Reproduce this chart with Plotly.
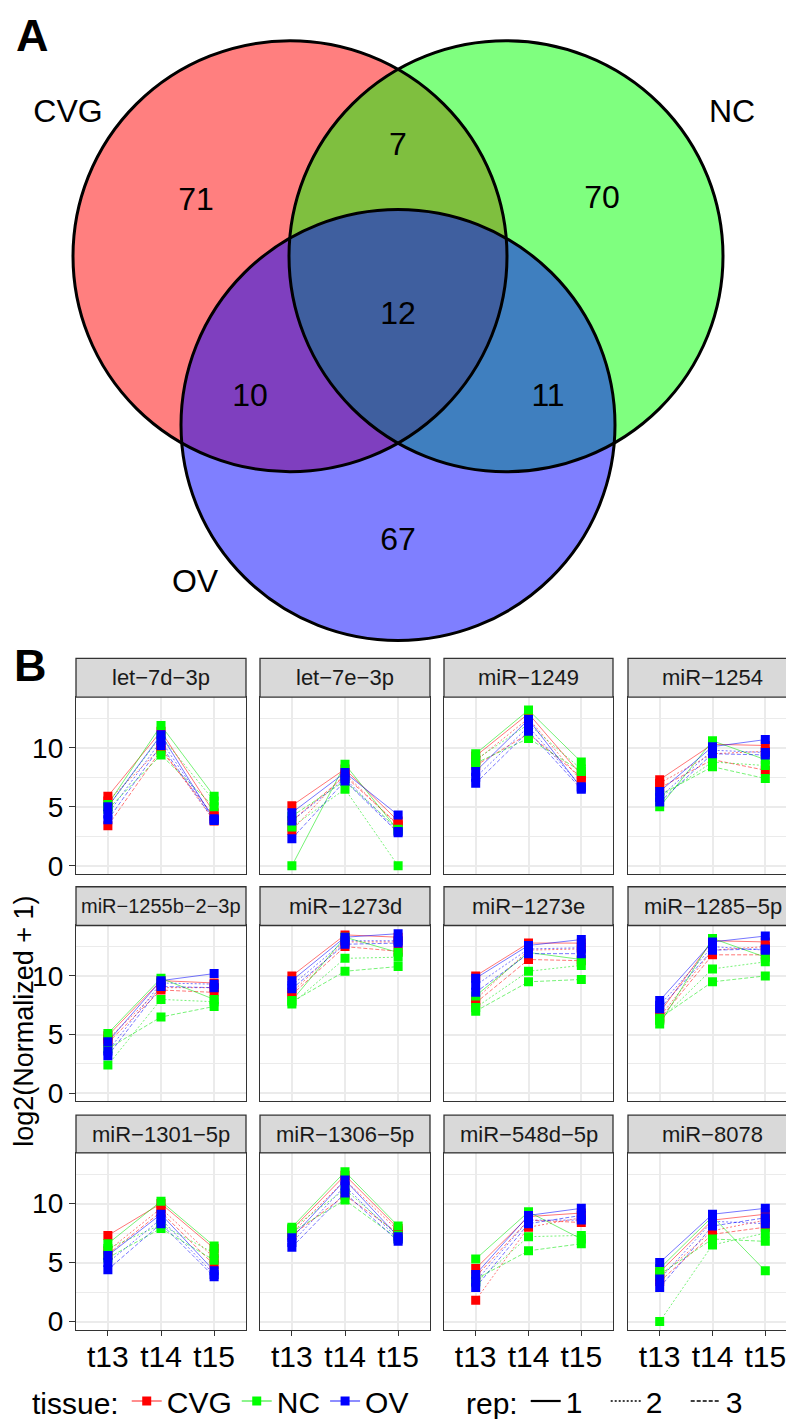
import plotly.graph_objects as go

# ---------------- data ----------------
venn_sets = ["CVG", "NC", "OV"]
venn_regions = ["CVG only", "NC only", "OV only", "CVG&NC", "CVG&OV", "NC&OV", "all"]
venn_counts = [71, 70, 67, 7, 10, 11, 12]

mirnas = ["let-7d-3p", "let-7e-3p", "miR-1249", "miR-1254",
          "miR-1255b-2-3p", "miR-1273d", "miR-1273e", "miR-1285-5p",
          "miR-1301-5p", "miR-1306-5p", "miR-548d-5p", "miR-8078"]
times = ["t13", "t14", "t15"]
tissues = ["CVG", "NC", "OV"]
reps = ["1", "2", "3"]

# values[miRNA][rep] at each time point
cvg_t13 = [[5.9,5.5,3.4],[5.1,3.0,3.8],[9.3,8.9,8.5],[7.3,7.0,6.6],[4.9,4.6,4.3],[10.0,8.6,8.4],
           [10.0,8.0,7.7],[6.9,6.5,6.3],[7.3,6.0,5.7],[7.8,7.5,7.3],[4.5,1.8,3.8],[4.2,3.8,3.4]]
cvg_t14 = [[11.4,10.0,9.8],[8.2,7.8,7.6],[12.9,12.5,11.2],[10.3,9.5,9.0],[9.6,9.0,8.8],[13.5,12.9,12.5],
           [12.8,12.2,11.4],[13.0,12.2,11.8],[10.0,9.6,9.3],[12.4,12.0,10.7],[8.9,8.0,8.6],[8.6,7.7,7.4]]
cvg_t15 = [[4.5,3.8,4.2],[3.8,3.4,3.5],[7.7,7.2,7.5],[10.2,9.7,8.1],[9.4,9.0,8.6],[13.3,12.9,12.1],
           [12.8,12.3,11.3],[12.9,12.5,11.8],[6.2,5.4,4.8],[7.9,7.7,7.5],[9.2,8.8,8.4],[9.1,8.6,8.0]]

nc_t13 = [[5.2,5.0,4.8],[0.0,3.3,4.2],[9.5,9.0,8.7],[5.0,5.8,6.0],[5.1,2.4,3.8],[7.9,7.6,7.8],
          [8.3,7.3,7.0],[5.9,6.2,6.4],[6.6,6.2,5.4],[8.0,7.9,7.6],[5.3,3.3,3.6],[4.5,0.0,4.0]]
nc_t14 = [[11.9,11.0,9.4],[8.6,6.5,7.2],[13.2,12.0,10.8],[10.6,8.8,8.4],[9.8,8.0,6.5],[13.3,11.5,10.4],
          [12.0,10.4,9.5],[13.2,10.6,9.5],[10.2,8.2,7.9],[12.7,11.2,10.3],[9.3,7.2,6.0],[8.9,6.5,7.0]]
nc_t15 = [[5.9,5.5,5.0],[3.0,0.0,3.1],[8.8,8.2,8.0],[9.0,8.5,7.4],[8.0,7.8,7.4],[12.0,11.6,10.8],
          [11.4,10.9,9.7],[11.6,11.2,10.0],[6.4,5.8,5.2],[8.1,7.3,7.0],[7.0,7.3,6.6],[4.3,7.5,6.8]]

ov_t13 = [[5.0,4.4,3.9],[4.5,3.8,2.3],[8.0,7.5,7.0],[6.3,5.8,5.4],[4.4,3.6,3.2],[9.6,9.2,8.9],
          [9.8,9.2,8.6],[7.9,7.5,7.2],[5.6,5.0,4.4],[7.1,6.7,6.3],[4.0,3.4,2.9],[5.0,3.6,2.9]]
ov_t14 = [[11.1,10.6,10.2],[7.9,7.4,7.2],[12.4,11.8,11.4],[10.1,9.8,9.5],[9.6,9.4,9.1],[13.3,13.0,12.7],
          [12.6,12.3,11.9],[12.9,12.5,12.2],[9.1,8.7,8.3],[12.0,11.5,10.9],[9.0,8.6,8.3],[9.1,8.5,8.1]]
ov_t15 = [[3.9,4.0,3.85],[4.3,2.9,2.8],[6.6,6.7,6.5],[10.7,9.6,9.4],[10.2,9.3,9.0],[13.6,13.0,12.8],
          [13.1,12.4,11.9],[13.4,12.2,12.3],[4.3,4.0,3.8],[7.2,7.0,6.8],[9.6,8.6,9.0],[9.6,8.3,8.8]]

y_ticks = [0, 5, 10]
y_minor = [2.5, 7.5, 12.5]

# ---------------- layout constants ----------------
W, H = 794, 1419
FONT = "Liberation Sans, Arial, sans-serif"
tissue_data = {"CVG": (cvg_t13, cvg_t14, cvg_t15),
               "NC": (nc_t13, nc_t14, nc_t15),
               "OV": (ov_t13, ov_t14, ov_t15)}
tissue_color = {"CVG": "#FF0000", "NC": "#00FF00", "OV": "#0000FF"}
tissue_line = {"CVG": "rgba(255,0,0,0.6)", "NC": "rgba(0,230,0,0.6)", "OV": "rgba(0,0,255,0.6)"}
rep_dash = {"1": "solid", "2": "2px,2px", "3": "4px,2px"}

col_px = [(68, 238), (252, 422), (436, 605), (620, 789)]
row_px = [(694, 872), (924, 1101), (1153, 1331)]
strip_px = [(655, 694), (885, 924), (1115, 1153)]

def fx(x):
    return x / W

def fy(y):
    return 1 - y / H

fig = go.Figure()
layout = dict(width=W, height=H, margin=dict(l=0, r=0, t=0, b=0),
              paper_bgcolor="white", plot_bgcolor="white",
              font=dict(family=FONT, color="black"), showlegend=True)
shapes = []
annotations = []

# ---------------- facet panels ----------------
for i, mir in enumerate(mirnas):
    r, c = divmod(i, 4)
    n = i + 1
    xa = "xaxis" if n == 1 else f"xaxis{n}"
    ya = "yaxis" if n == 1 else f"yaxis{n}"
    xr = "x" if n == 1 else f"x{n}"
    yr = "y" if n == 1 else f"y{n}"
    x0, x1 = col_px[c]
    y0, y1 = row_px[r]
    bottom = (r == 2)
    left = (c == 0)
    layout[xa] = dict(domain=[fx(x0), fx(x1)], anchor=yr, type="category",
                      categoryorder="array", categoryarray=times, range=[-0.6, 2.6],
                      showgrid=True, gridcolor="#EBEBEB", gridwidth=2, zeroline=False,
                      showline=True, mirror=True, linecolor="#333333", linewidth=1.3,
                      ticks="outside" if bottom else "", ticklen=5, tickwidth=1.3,
                      tickcolor="#333333", showticklabels=bottom, ticklabelstandoff=-5,
                      tickfont=dict(size=30, family=FONT, color="black"))
    layout[ya] = dict(domain=[fy(y1), fy(y0)], anchor=xr, range=[-0.68, 14.3],
                      tickvals=y_ticks, showgrid=True, gridcolor="#EBEBEB", gridwidth=2,
                      zeroline=False, showline=True, mirror=True, linecolor="#333333",
                      linewidth=1.3, ticks="outside" if left else "", ticklen=6,
                      tickwidth=1.3, tickcolor="#333333", showticklabels=left,
                      tickfont=dict(size=28, family=FONT, color="black"),
                      minor=dict(tickvals=y_minor, showgrid=True, gridcolor="#EBEBEB",
                                 gridwidth=1, ticks=""))
    # lines
    for t in tissues:
        t13, t14, t15 = tissue_data[t]
        for k, rep in enumerate(reps):
            fig.add_trace(go.Scatter(
                x=times, y=[t13[i][k], t14[i][k], t15[i][k]], mode="lines",
                line=dict(color=tissue_line[t], width=0.9, dash=rep_dash[rep]),
                xaxis=xr, yaxis=yr, showlegend=False, hoverinfo="skip"))
    # points
    for t in tissues:
        t13, t14, t15 = tissue_data[t]
        xs, ys = [], []
        for k in range(3):
            xs += times
            ys += [t13[i][k], t14[i][k], t15[i][k]]
        fig.add_trace(go.Scatter(
            x=xs, y=ys, mode="markers",
            marker=dict(symbol="square", size=9, color=tissue_color[t], line=dict(width=0)),
            xaxis=xr, yaxis=yr, showlegend=False, hoverinfo="skip"))
    # strip
    s0, s1 = strip_px[r]
    shapes.append(dict(type="rect", xref="paper", yref="paper",
                       x0=fx(x0), x1=fx(x1), y0=fy(s1), y1=fy(s0),
                       fillcolor="#D9D9D9", line=dict(color="#333333", width=1.3)))
    annotations.append(dict(xref="paper", yref="paper", x=fx((x0 + x1) / 2),
                            y=fy((s0 + s1) / 2), text=mir.replace("-", "\u2212"),
                            showarrow=False, xanchor="center", yanchor="middle",
                            font=dict(size=20 if len(mir) > 12 else 22, color="#1A1A1A", family=FONT)))

# ---------------- venn diagram ----------------
vx = "x13"
vy = "y13"
layout["xaxis13"] = dict(domain=[0, 1], range=[0, W], visible=False, anchor="y13")
layout["yaxis13"] = dict(domain=[fy(645), 1], range=[645, 0], visible=False, anchor="x13")
circles = [(282, 250, 217), (498, 250, 217), (390, 420, 217)]
venn_fill = ["rgba(255,0,0,0.5)", "rgba(0,255,0,0.5)", "rgba(0,0,255,0.5)"]
for (cx, cy, rr), fc in zip(circles, venn_fill):
    shapes.append(dict(type="circle", xref=vx, yref=vy, x0=cx - rr, x1=cx + rr,
                       y0=cy - rr, y1=cy + rr, fillcolor=fc, line=dict(width=0), layer="below"))
for (cx, cy, rr) in circles:
    shapes.append(dict(type="circle", xref=vx, yref=vy, x0=cx - rr, x1=cx + rr,
                       y0=cy - rr, y1=cy + rr, fillcolor="rgba(0,0,0,0)",
                       line=dict(color="black", width=3), layer="below"))

count_pos = [(188, 195), (594, 193), (390, 538), (390, 140), (242, 393), (540, 393), (390, 310)]
fig.add_trace(go.Scatter(
    x=[p[0] for p in count_pos], y=[p[1] for p in count_pos],
    text=[str(v) for v in venn_counts], mode="text",
    textfont=dict(size=32, color="black", family=FONT),
    xaxis=vx, yaxis=vy, showlegend=False, hoverinfo="skip"))
set_pos = [(60, 107), (724, 107), (187, 580)]
fig.add_trace(go.Scatter(
    x=[p[0] for p in set_pos], y=[p[1] for p in set_pos],
    text=venn_sets, mode="text",
    textfont=dict(size=32, color="black", family=FONT),
    xaxis=vx, yaxis=vy, showlegend=False, hoverinfo="skip"))

# panel letters and axis title
annotations.append(dict(xref="paper", yref="paper", x=fx(24), y=1.0, text="<b>A</b>",
                        xanchor="center", yanchor="top",
                        showarrow=False, font=dict(size=45, family=FONT, color="black")))
annotations.append(dict(xref="paper", yref="paper", x=fx(22), y=fy(662), text="<b>B</b>",
                        xanchor="center", yanchor="middle",
                        showarrow=False, font=dict(size=45, family=FONT, color="black")))
annotations.append(dict(xref="paper", yref="paper", x=fx(16), y=fy(1021),
                        xanchor="center", yanchor="middle",
                        text="log2(Normalized + 1)", textangle=-90, showarrow=False,
                        font=dict(size=27, family=FONT, color="black")))

# ---------------- legends ----------------
for t in tissues:
    fig.add_trace(go.Scatter(x=[None], y=[None], mode="lines+markers", name=t,
                             line=dict(color=tissue_line[t], width=1.5),
                             marker=dict(symbol="square", size=9, color=tissue_color[t]),
                             legend="legend", xaxis="x", yaxis="y"))
for rep in reps:
    fig.add_trace(go.Scatter(x=[None], y=[None], mode="lines", name=rep,
                             line=dict(color="black", width=2.2 if rep == "1" else 1.6,
                                       dash=rep_dash[rep]),
                             legend="legend2", xaxis="x", yaxis="y"))

layout["legend"] = dict(orientation="h", x=fx(22), xanchor="left", y=fy(1403), yanchor="middle",
                        title=dict(text="tissue:", side="left", font=dict(size=30, family=FONT)),
                        font=dict(size=30, family=FONT), itemwidth=30, tracegroupgap=0,
                        bgcolor="rgba(0,0,0,0)")
layout["legend2"] = dict(orientation="h", x=fx(456), xanchor="left", y=fy(1403), yanchor="middle",
                         title=dict(text="rep:", side="left", font=dict(size=30, family=FONT)),
                         font=dict(size=30, family=FONT), itemwidth=30, tracegroupgap=0,
                         entrywidth=35, bgcolor="rgba(0,0,0,0)")

layout["shapes"] = shapes
layout["annotations"] = annotations
fig.update_layout(**layout)
fig.write_html("out.html")
